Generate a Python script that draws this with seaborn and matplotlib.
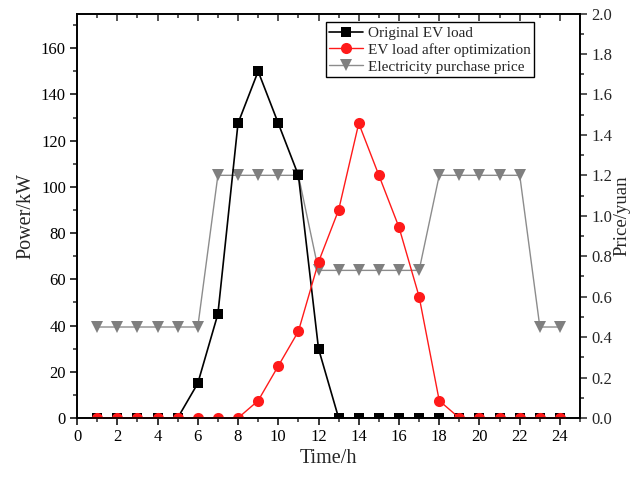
import matplotlib
matplotlib.use("Agg")
import matplotlib.pyplot as plt
import seaborn as sns
import numpy as np
import pandas as pd
from matplotlib.ticker import MultipleLocator

hours = list(range(1, 25))
original_load = [0, 0, 0, 0, 0, 15, 45, 127.5, 150, 127.5, 105, 30,
                 0, 0, 0, 0, 0, 0, 0, 0, 0, 0, 0, 0]
optimized_load = [0, 0, 0, 0, 0, 0, 0, 0, 7.5, 22.5, 37.5, 67.5,
                  90, 127.5, 105, 82.5, 52.5, 7.5, 0, 0, 0, 0, 0, 0]
price = [0.45, 0.45, 0.45, 0.45, 0.45, 0.45, 1.2, 1.2, 1.2, 1.2, 1.2, 0.73,
         0.73, 0.73, 0.73, 0.73, 0.73, 1.2, 1.2, 1.2, 1.2, 1.2, 0.45, 0.45]

sns.set_style("ticks")
plt.rcParams['font.family'] = ['Liberation Serif', 'DejaVu Serif']
plt.rcParams['mathtext.fontset'] = 'stix'

fig = plt.figure(figsize=(6.34, 4.79), dpi=100)
ax = fig.add_axes([0.1215, 0.1273, 0.915 - 0.1215, 0.9718 - 0.1273])
ax2 = ax.twinx()

sns.lineplot(x=hours, y=price, ax=ax2, color='#8c8c8c', marker='v',
             markersize=8, markeredgewidth=0, linewidth=1.0,
             markerfacecolor='#7f7f7f', label='Electricity purchase price',
             legend=False)
sns.lineplot(x=hours, y=original_load, ax=ax, color='black', marker='s',
             markersize=6.5, markeredgewidth=0, linewidth=1.2,
             label='Original EV load', legend=False)
sns.lineplot(x=hours, y=optimized_load, ax=ax, color='#ff1a1a', marker='o',
             markersize=8, markeredgewidth=0, linewidth=1.0,
             label='EV load after optimization', legend=False)

ax.set_zorder(ax2.get_zorder() + 1)
ax.patch.set_visible(False)

ax.set_xlim(0, 25)
ax.set_ylim(0, 175)
ax2.set_ylim(0, 2.0)

ax.xaxis.set_major_locator(MultipleLocator(2))
ax.xaxis.set_minor_locator(MultipleLocator(1))
ax.yaxis.set_major_locator(MultipleLocator(20))
ax.yaxis.set_minor_locator(MultipleLocator(10))
ax2.yaxis.set_major_locator(MultipleLocator(0.2))
ax2.yaxis.set_minor_locator(MultipleLocator(0.1))
ax2.yaxis.set_major_formatter(matplotlib.ticker.FormatStrFormatter('%.1f'))

for a in (ax, ax2):
    for s in a.spines.values():
        s.set_visible(True)
        s.set_linewidth(1.2)
        s.set_color('black')

ax.tick_params(axis='both', which='major', direction='out', length=5, width=1.1,
               labelsize=12, colors='black', top=False, pad=3)
ax.tick_params(axis='both', which='minor', direction='out', length=3, width=1.1)
ax2.tick_params(axis='y', which='major', direction='out', length=5, width=1.1,
                labelsize=12, pad=3)
ax2.tick_params(axis='y', which='minor', direction='out', length=3, width=1.1)

# top ticks pointing inward
axt = ax.secondary_xaxis('top')
axt.xaxis.set_major_locator(MultipleLocator(2))
axt.xaxis.set_minor_locator(MultipleLocator(1))
axt.tick_params(axis='x', which='major', direction='in', length=5, width=1.1, labeltop=False)
axt.tick_params(axis='x', which='minor', direction='in', length=3, width=1.1)
axt.spines['top'].set_linewidth(1.2)

ax.set_xlabel('Time/h', fontsize=14.5, labelpad=3)
ax.set_ylabel('Power/kW', fontsize=14.5, labelpad=4)
ax2.set_ylabel('Price/yuan', fontsize=13.5)
ax2.yaxis.set_label_coords(1.066, 0.5)

h1, l1 = ax.get_legend_handles_labels()
h2, l2 = ax2.get_legend_handles_labels()
leg = ax.legend(h1 + h2, l1 + l2, loc='upper left', bbox_to_anchor=(0.494, 0.978),
                fontsize=11, frameon=True, fancybox=False, edgecolor='black',
                framealpha=1, handlelength=2.2, handletextpad=0.3,
                borderpad=0.25, labelspacing=0.2, borderaxespad=0)
leg.get_frame().set_linewidth(1.0)

fig.savefig('out.png', dpi=100)
